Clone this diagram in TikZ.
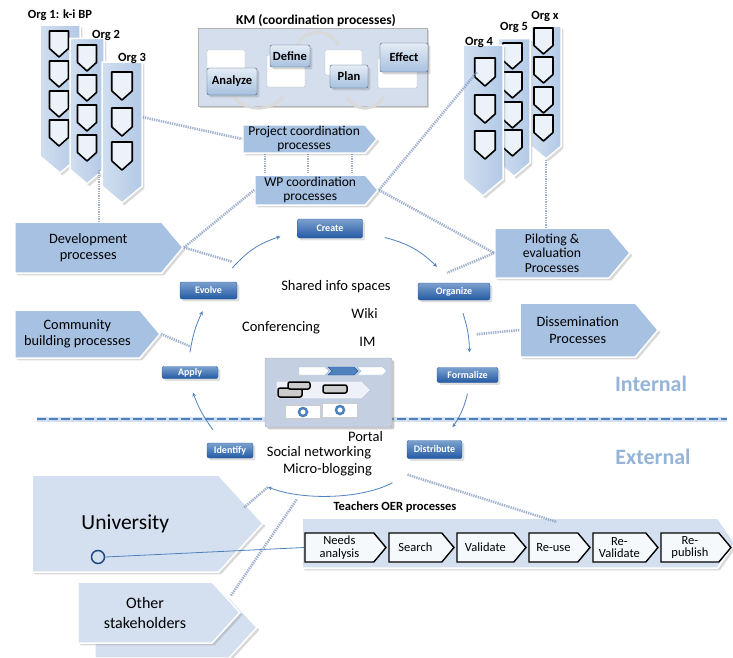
\documentclass[tikz,border=0pt]{standalone}
\usepackage{fontspec}
\setmainfont{Carlito}
\usepackage{tikz}
\usetikzlibrary{shapes.symbols, shadows, arrows, positioning, calc}

\definecolor{procblue}{RGB}{167,193,226}
\definecolor{colblue}{RGB}{178,201,230}
\definecolor{lightproc}{RGB}{212,224,240}
\definecolor{stepblue}{RGB}{79,129,189}
\definecolor{stepdark}{RGB}{36,90,164}
\definecolor{linkgray}{RGB}{136,156,192}
\definecolor{kmfill}{RGB}{212,222,237}

\begin{document}
\begin{tikzpicture}[x=1pt, y=-1pt, >=stealth,
    every node/.style={inner sep=1pt},
    procbox/.style={shape=signal, signal to=east, signal pointer angle=100, fill=procblue, draw=white, line width=1.5pt, drop shadow={opacity=0.3}, align=center, font=\fontsize{14.3}{16.5}\selectfont},
    orgcol/.style={shape=signal, signal to=south, signal pointer angle=100, left color=colblue!60!white, right color=colblue, draw=white, line width=1.5pt, drop shadow={opacity=0.3}},
    orgchev/.pic={\draw[fill=white!75!colblue, draw=black, line width=1.6pt, line join=round] (-9.5,-13) -- (9.5,-13) -- (9.5,4.5) -- (0,13) -- (-9.5,4.5) -- cycle;},
    orglabel/.style={font=\fontsize{12.5}{14}\selectfont\bfseries},
    cycstep/.style={rounded corners=2pt, top color=stepblue!75!white, bottom color=stepdark, draw=stepdark, text=white, font=\fontsize{10}{11}\selectfont\bfseries, inner sep=0pt, drop shadow={opacity=0.25}},
    cycarrow/.style={->, draw=stepblue, line width=0.8pt},
    link/.style={draw=linkgray, line width=2.6pt, dash pattern=on 1.3pt off 1pt, opacity=0.8},
    kmstep/.style={rounded corners=2pt, top color=white!85!stepblue, bottom color=stepblue!50!white, draw=stepblue!70!black, font=\fontsize{12.5}{14}\selectfont\bfseries, inner sep=0pt, drop shadow={opacity=0.3}},
    kmblank/.style={fill=white, draw=gray!50, rounded corners=1pt},
    oerstep/.style={shape=signal, signal to=east, signal pointer angle=100, fill=white!90!procblue, draw=black, line width=1.4pt, minimum height=29pt, align=center, font=\fontsize{12.5}{12.5}\selectfont, inner sep=0pt},
    spacetext/.style={font=\fontsize{14.5}{16}\selectfont}
]
\useasboundingbox (0,0) rectangle (733,658);

% Partner organisations, left
\node[orgcol, minimum width=40pt, minimum height=132pt] (org1) at (60,90.6) {};
\foreach \y [count=\i] in {44,74,104,133} {\coordinate (org1-\i) at (59,\y); \pic at (org1-\i) {orgchev};}
\node[orgcol, minimum width=34pt, minimum height=132pt] (org2) at (87,103.9) {};
\foreach \y [count=\i] in {58,88,118,148} {\coordinate (org2-\i) at (87,\y); \pic at (org2-\i) {orgchev};}
\node[orgcol, minimum width=40pt, minimum height=125pt] (org3) at (122,124.1) {};
\foreach \y [count=\i] in {86,122,156} {\coordinate (org3-\i) at (122,\y); \pic[scale=1.08] at (org3-\i) {orgchev};}
\node[orglabel] (org1-lbl) at (60,15) {Org 1: k-i BP};
\node[orglabel] (org2-lbl) at (106,35) {Org 2};
\node[orglabel] (org3-lbl) at (132,58) {Org 3};

% Partner organisations, right
\node[orgcol, minimum width=30pt, minimum height=121pt] (orgx) at (546,86.2) {};
\foreach \y [count=\i] in {41,70,100,128} {\coordinate (orgx-\i) at (543.5,\y); \pic at (orgx-\i) {orgchev};}
\node[orgcol, minimum width=32pt, minimum height=125pt] (org5) at (514,100.8) {};
\foreach \y [count=\i] in {56,85,115,143} {\coordinate (org5-\i) at (512.5,\y); \pic at (org5-\i) {orgchev};}
\node[orgcol, minimum width=40pt, minimum height=135pt] (org4) at (483,112.1) {};
\foreach \y [count=\i] in {72,109,145} {\coordinate (org4-\i) at (485,\y); \pic[scale=1.08] at (org4-\i) {orgchev};}
\node[orglabel] (org4-lbl) at (479,42) {Org 4};
\node[orglabel] (org5-lbl) at (514,27) {Org 5};
\node[orglabel] (orgx-lbl) at (545,16) {Org x};

% KM block
\node[font=\fontsize{13.5}{15}\selectfont\bfseries] (km-title) at (316,21) {KM (coordination processes)};
\node[fill=kmfill, draw=gray!60, drop shadow={opacity=0.35}, minimum width=229pt, minimum height=78pt] (km) at (312.5,67) {};
\draw[gray!30, line width=3pt] (233,96) .. controls (245,112) and (270,112) .. (283,97);
\draw[gray!30, line width=3pt] (297,45) .. controls (305,28) and (330,28) .. (338,45);
\draw[gray!30, line width=3pt] (347,97) .. controls (355,112) and (375,112) .. (383,97);
\draw[kmblank] (207,50) rectangle (245,72);
\draw[kmblank] (267,55) rectangle (305,87);
\draw[kmblank] (325,50) rectangle (362,75);
\draw[kmblank] (378,58) rectangle (417,88);
\node[kmstep, minimum width=50pt, minimum height=27pt] (analyze) at (232,81.5) {Analyze};
\node[kmstep, minimum width=40pt, minimum height=22pt] (define) at (290,56) {Define};
\node[kmstep, minimum width=38pt, minimum height=23pt] (plan) at (349,76.5) {Plan};
\node[kmstep, minimum width=48pt, minimum height=29pt] (effect) at (404,57.5) {Effect};

% Process arrows
\node[procbox, minimum width=134pt, minimum height=28pt, font=\fontsize{13.5}{14}\selectfont] (proj) at (304.1,139) {Project coordination\\processes};
\node[procbox, minimum width=123pt, minimum height=30pt, font=\fontsize{13.5}{14}\selectfont] (wp) at (310.2,190) {WP coordination\\processes};
\node[procbox, minimum width=168pt, minimum height=51pt] (dev) at (88.3,247.5) {Development\\processes};
\node[procbox, minimum width=145pt, minimum height=48pt] (comm) at (77.4,334) {Community\\building processes};
\node[procbox, minimum width=135pt, minimum height=50pt, font=\fontsize{13.7}{14.5}\selectfont] (pilot) at (552,253) {Piloting \&\\evaluation\\Processes};
\node[procbox, minimum width=138pt, minimum height=54pt] (diss) at (577.7,330) {Dissemination\\Processes};

% Divider internal / external
\coordinate (div-l) at (37,419);
\coordinate (div-r) at (727,419);
\draw[stepblue!25, line width=5pt] (div-l) -- (div-r);
\draw[stepblue, line width=2.5pt, dash pattern=on 9pt off 3pt] (div-l) -- (div-r);
\node[font=\fontsize{22}{25}\selectfont\bfseries, text=stepblue!60] (internal) at (651,384) {Internal};
\node[font=\fontsize{22}{25}\selectfont\bfseries, text=stepblue!60] (external) at (653,457) {External};

% Shared info spaces screenshot
\node[fill={rgb,255:red,196;green,208;blue,226}, draw=gray!70, drop shadow={opacity=0.4}, rounded corners=2pt, minimum width=127pt, minimum height=69pt] (thumb) at (328.5,392.5) {};
\node[shape=signal, signal to=east, fill=white, draw=stepblue!50, minimum width=30pt, minimum height=8pt, inner sep=0pt] (th-a) at (312,371) {};
\node[shape=signal, signal to=east, signal from=west, fill=stepblue, draw=stepdark, minimum width=30pt, minimum height=8pt, inner sep=0pt] (th-b) at (343,371) {};
\node[shape=signal, signal to=east, signal from=west, fill=white, draw=stepblue!50, minimum width=30pt, minimum height=8pt, inner sep=0pt] (th-c) at (372,371) {};
\node[shape=signal, signal to=east, fill=white!60!kmfill, draw=white, minimum width=92pt, minimum height=16pt, inner sep=0pt] (th-band) at (319,390) {};
\draw[line width=1.5pt, fill=gray!40, rounded corners=2pt] (278,388) rectangle (302,397);
\draw[line width=1.5pt, fill=gray!40, rounded corners=2pt] (288,382) rectangle (310,389);
\draw[line width=1.5pt, fill=gray!40, rounded corners=2pt] (323,385) rectangle (347,393);
\draw[fill=white, draw=gray!40] (285,405) rectangle (320,418);
\draw[fill=white, draw=gray!40] (322,403) rectangle (357,417);
\draw[stepblue, line width=2.5pt] (303,412) circle (4);
\draw[stepblue, line width=2.5pt] (340,410) circle (4);

% Cycle of KM steps
\node[cycstep, minimum width=65pt, minimum height=19pt] (create) at (330,228.5) {Create};
\node[cycstep, minimum width=72pt, minimum height=17pt] (organize) at (454,291.5) {Organize};
\node[cycstep, minimum width=61pt, minimum height=15pt] (formalize) at (467.5,375) {Formalize};
\node[cycstep, minimum width=55pt, minimum height=18pt] (distribute) at (434.5,449.5) {Distribute};
\node[cycstep, minimum width=46pt, minimum height=15pt] (identify) at (230,450.5) {Identify};
\node[cycstep, minimum width=56pt, minimum height=12pt] (apply) at (190,372.5) {Apply};
\node[cycstep, minimum width=57pt, minimum height=17pt] (evolve) at (208.5,290.5) {Evolve};

\coordinate (ext-in) at (268,487);
\coordinate (ext-mid) at (297,499);
\draw[cycarrow] ([shift={(24,-14)}]evolve.north) to[bend left=15] ([shift={(-17,8)}]create.west);
\draw[cycarrow] ([shift={(22,9)}]create.east) to[bend left=15] ([shift={(-17,-16)}]organize.north);
\draw[cycarrow] ([shift={(9,13)}]organize.south) to[bend left=8] ([shift={(2,-15)}]formalize.north);
\draw[cycarrow] ([shift={(0,11)}]formalize.south) to[bend left=10] ([shift={(18,-13)}]distribute.north);
\draw[cycarrow] ([shift={(-42,24)}]distribute.south) .. controls (360,500) and (300,500) .. (ext-in);
\draw[cycarrow] ([shift={(-17,-13)}]identify.north) to[bend left=8] ([shift={(3,14)}]apply.south);
\draw[cycarrow] ([shift={(0,-14)}]apply.north) to[bend left=8] ([shift={(-6,12)}]evolve.south);

% Shared info spaces
\node[spacetext] (shared) at (336,287) {Shared info spaces};
\node[spacetext] (wiki) at (364.5,313) {Wiki};
\node[spacetext] (conf) at (281,328) {Conferencing};
\node[spacetext] (im) at (367.5,342) {IM};
\node[spacetext] (portal) at (365.5,437) {Portal};
\node[spacetext] (social) at (319,453) {Social networking};
\node[spacetext] (micro) at (327.5,470) {Micro-blogging};

% External stakeholders
\node[procbox, fill=lightproc, signal pointer angle=95, minimum width=162pt, minimum height=61pt] (other-back) at (162,627.5) {};
\node[procbox, fill=lightproc, signal pointer angle=95, minimum width=162pt, minimum height=61pt, font=\fontsize{16}{20}\selectfont] (other) at (145,612.5) {Other\\stakeholders};
\node[procbox, fill=lightproc, signal pointer angle=95, minimum width=231pt, minimum height=97pt, font=\fontsize{21.5}{24}\selectfont] (univ) at (125.3,523.5) {University};
\node[circle, draw=stepdark!80!black, line width=1.5pt, minimum size=13pt, inner sep=0pt] (ucircle) at (98,557) {};

% Teachers OER processes
\node[font=\fontsize{12.5}{14}\selectfont\bfseries] (oer-title) at (395,507) {Teachers OER processes};
\node[procbox, fill=lightproc, signal pointer angle=110, minimum width=433pt, minimum height=50pt] (oer) at (509.8,543) {};
\foreach \nm/\cx/\w/\txt in {needs/339.4/81/{Needs\\analysis}, search/415.4/65/{Search}, validate/485.4/69/{Validate}, reuse/553.4/61/{Re-use}, revalidate/619.4/65/{Re-\\Validate}, republish/689.9/70/{Re-\\publish}}
  \node[oerstep, minimum width=\w pt] (\nm) at (\cx,547.5) {\txt};
\draw[stepblue, line width=0.8pt] (ucircle.east) -- (needs.west);

% Dotted links
\draw[link] ([shift={(0,-7)}]org3.east) -- (proj.west);
\draw[link] ([shift={(12,66)}]org2.center) -- ([shift={(12,0)}]org2.center |- dev.north);
\foreach \dx in {-39,4,48}
  \draw[link] ([xshift=\dx pt]proj.south) -- ([xshift=\dx pt]proj.south |- wp.north);
\draw[link] (dev.east) -- (wp.west);
\draw[link] (dev.east) -- ([shift={(24,-20)}]evolve.north);
\draw[link] (wp.east) -- ([shift={(-8,0)}]org4-1);
\draw[link] (wp.east) -- (pilot.west);
\draw[link] (pilot.west) -- ([shift={(-7,-10)}]organize.north);
\draw[link] (orgx.south) -- (orgx.south |- pilot.north);
\draw[link] (diss.west) -- ([shift={(9,-33)}]formalize.north);
\draw[link] (comm.east) -- ([shift={(0,-20)}]apply.north);
\draw[link] ([shift={(-20,-16)}]univ.east) -- (ext-in);
\draw[link] ([shift={(-10,-17)}]other.east) -- (ext-mid);
\draw[link] ([shift={(-27,16)}]distribute.south) -- ([shift={(47,-21)}]oer.center);
\end{tikzpicture}
\end{document}
